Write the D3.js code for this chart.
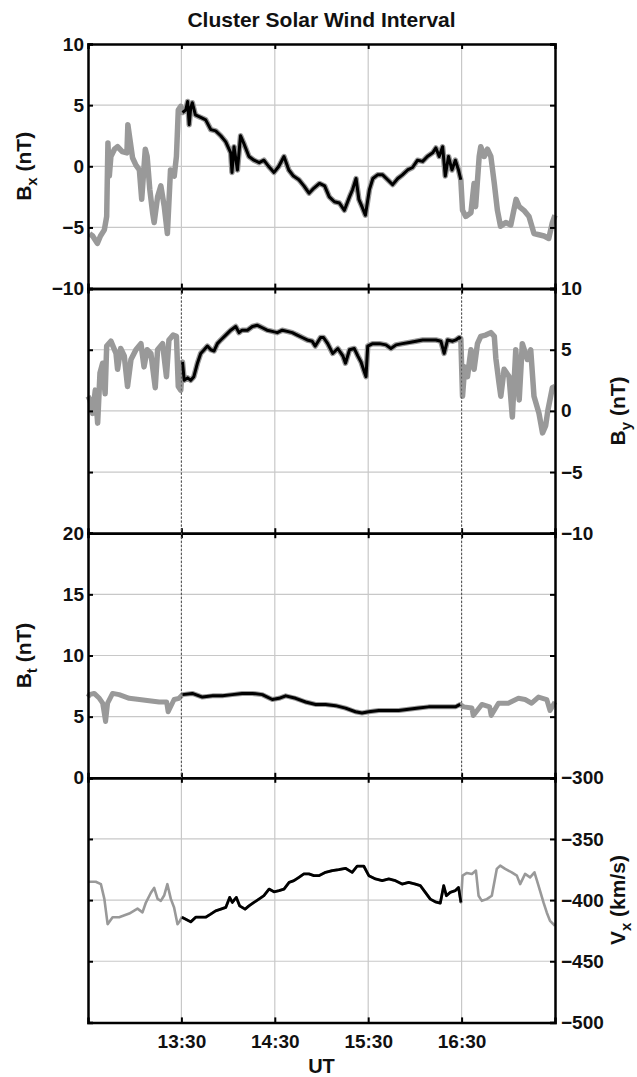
<!DOCTYPE html>
<html>
<head>
<meta charset="utf-8">
<script src="https://cdn.jsdelivr.net/npm/d3@7"></script>
<style>
  body { margin: 0; background: #fff; }
  svg text { font-family: "Liberation Sans", Arial, sans-serif; font-weight: bold; fill: #111; }
</style>
</head>
<body>
<svg id="chart" width="637" height="1077"></svg>
<script>
// time is minutes after 12:30 UT
const xTickValues = [60, 120, 180, 240];
const xTickLabels = ["13:30", "14:30", "15:30", "16:30"];
const intervalStart = 60, intervalEnd = 240;

const bxT = [1, 3, 6, 8, 10.5, 12, 12.8, 13.7, 14.7, 17, 19, 22, 25, 25.6, 28.6, 30.8, 33, 34.5, 36.8, 38, 39.7, 41.5, 42.5, 44.7, 46.8, 49, 51, 53, 55.4, 56.8, 58, 59.6,
  60.7, 62.8, 64, 65, 66, 67, 69, 72.4, 75.6, 78.9, 82, 85.3, 88.5, 91.7, 92.5, 93.8, 96, 98, 100, 103.4, 106.6, 110, 113, 116, 119.5, 122.6, 125.9, 129, 132, 135.5, 138.7, 142, 145, 148.7,
  152, 155, 158.3, 161.5, 164.7, 168, 170, 172.2, 174, 176, 178.2, 180.8, 183, 186, 189.3, 192.5, 195.7, 199, 202, 205.3, 208.5, 211.7, 215, 218, 221.4, 223.5, 225.6, 227.8, 229.5, 231.6, 233.8, 236, 238, 239.5,
  240.6, 242.7, 246, 248, 249, 251.3, 252.3, 254.5, 256.6, 258.8, 261, 263, 265, 268.4, 271.6, 275, 277, 280, 283.3, 286.5, 289.7, 293, 296, 298.3, 300];
const bxV = [-5.5, -5.7, -6.3, -5.7, -5.2, -4.1, 1.9, -0.8, 0.8, 1.4, 1.6, 1.2, 1.1, 3.4, 0.7, 0.1, -0.3, -2.7, 1.4, 0.8, -1.9, -3.8, -4.6, -2.5, -1.6, -3.3, -5.5, -0.3, -0.8, 0.8, 4.6, 4.9,
  4.4, 4.6, 5.3, 3.4, 4.8, 5.2, 4.2, 4.0, 3.8, 3.0, 2.9, 2.5, 2.0, 1.1, -0.5, 1.6, -0.3, 2.5, 1.9, 0.8, 0.5, 0.3, 0.5, 0, -0.5, 0, 0.8, -0.3, -0.8, -1.1, -1.6, -2.2, -1.8, -1.4,
  -1.6, -2.5, -2.9, -3.0, -3.6, -2.5, -1.9, -1.0, -2.7, -3.3, -4.0, -1.9, -1.0, -0.7, -0.7, -1.1, -1.5, -1.0, -0.7, -0.3, -0.1, 0.5, 0.4, 0.8, 1.1, 1.5, 0.8, 1.6, -0.8, 0.8, -0.3, 0.5, -0.3, -1.1,
  -3.6, -4.1, -3.8, -1.4, -3.3, 0.8, 1.6, 0.8, 1.4, 0.8, -1.4, -3.6, -4.9, -4.6, -4.8, -2.7, -3.3, -3.6, -4.1, -5.5, -5.6, -5.7, -5.9, -4.6, -4.0];

const byT = [0, 1.3, 3, 4.7, 6.2, 7.7, 9.4, 11, 12, 14.7, 18, 19, 21, 23.3, 25.4, 27.6, 30.8, 34, 36, 38, 40.4, 43.2, 44.7, 47.9, 50.4, 52, 54.7, 56.8, 58, 59.6,
  60.7, 61.8, 64, 66, 68, 70.3, 72.4, 74.6, 76.7, 78.9, 81, 83.1, 85.3, 88.5, 91.7, 94.9, 97, 99, 102.4, 105.6, 108.8, 112, 115, 118.4, 121.6, 124.8, 128, 131.2, 134.4, 137.6, 140.8, 144, 146, 149.4,
  151.3, 154, 157.2, 160.5, 163.7, 165.4, 168, 171.1, 173.3, 175.4, 177.5, 178.6, 179.7, 182.9, 187.2, 191.4, 194.6, 197.9, 202, 206.4, 210.7, 215, 219.2, 223.5, 226.7, 228.8, 231, 234.2, 236.3, 238.5, 239.5,
  240.6, 242, 243.8, 246, 248, 250.2, 252.3, 255.5, 258.8, 261, 262, 264, 265.2, 267.3, 270.5, 272.6, 274.8, 277, 279, 282.3, 284.4, 286.5, 289.7, 292, 294, 295.5, 298.3, 300];
const byV = [1.2, 0.9, -0.2, 1.7, -1.0, 3.1, 3.9, 1.4, 5.3, 5.7, 4.7, 3.4, 5.1, 4.5, 2.0, 4.2, 5.0, 5.5, 3.6, 5.0, 4.7, 1.9, 5.0, 5.5, 2.8, 5.8, 6.2, 6.1, 2.0, 1.7,
  4.0, 2.5, 2.7, 2.5, 2.8, 3.9, 4.7, 5.0, 5.3, 5.0, 4.9, 5.5, 5.8, 6.2, 6.6, 6.9, 6.4, 6.6, 6.6, 6.9, 7.0, 6.8, 6.6, 6.5, 6.4, 6.6, 6.5, 6.4, 6.2, 6.0, 5.8, 5.7, 5.3, 6.0,
  6.0, 5.5, 4.7, 5.1, 4.5, 3.9, 5.0, 5.1, 4.5, 4.0, 3.2, 2.8, 5.3, 5.5, 5.5, 5.4, 5.1, 5.4, 5.5, 5.6, 5.7, 5.8, 5.8, 5.8, 5.7, 4.7, 5.8, 5.7, 5.8, 6.0, 5.9,
  1.2, 3.6, 2.8, 5.0, 3.4, 5.5, 6.1, 6.2, 6.4, 6.1, 4.3, 2.3, 1.2, 3.4, 2.8, -0.5, 5.0, 0.9, 5.5, 4.2, 5.0, 1.2, -0.2, -1.8, -1.2, 0.1, 1.9, 2.0];

const btT = [0, 0.9, 4, 7.3, 9.4, 11.3, 12.6, 15.8, 20, 26.5, 33, 39.3, 45.7, 50.5, 51.5, 55.3, 58.5,
  60.7, 67, 73.5, 80, 86.3, 92.7, 99, 105.6, 112, 118.4, 122.7, 127, 133.4, 139.8, 146.2, 152.6, 159, 165.4, 171.8, 176, 180.4, 186.8, 193.2, 199.6, 206, 212.4, 218.8, 225.2, 231.6, 236, 239.1,
  241.3, 246.6, 247.5, 253, 258, 259, 263.7, 270, 276.5, 280.8, 285, 289.4, 294.7, 296.8, 300];
const btV = [6.6, 6.8, 6.9, 6.5, 6.1, 4.6, 6.1, 6.9, 6.8, 6.5, 6.4, 6.3, 6.2, 6.2, 5.4, 6.4, 6.5,
  6.8, 6.9, 6.6, 6.7, 6.7, 6.8, 6.9, 6.9, 6.8, 6.4, 6.5, 6.7, 6.5, 6.2, 6.0, 6.0, 5.9, 5.7, 5.4, 5.3, 5.4, 5.5, 5.5, 5.5, 5.6, 5.7, 5.8, 5.8, 5.8, 5.8, 6.0,
  5.8, 5.7, 5.1, 6.0, 5.8, 5.1, 6.1, 6.1, 6.5, 6.4, 6.1, 6.6, 6.4, 5.5, 6.2];

const vxT = [0, 5, 8.3, 10.5, 12.6, 15.8, 20, 26.5, 31.8, 35, 37.2, 40.4, 42.5, 44.7, 46.8, 49, 51, 53.2, 55.3, 57.5, 59,
  60.3, 62.8, 66, 69.2, 72.4, 75.6, 78.8, 82, 85.3, 88.5, 91, 92.7, 95.3, 97.4, 100.9, 103.4, 106.6, 109.8, 113, 116.3, 119.5, 122.7, 125.9, 129.2, 132.3, 135.5, 138.7, 141.9, 145.1, 148.3,
  152.6, 156.9, 161.1, 165.4, 169.7, 172.9, 177.2, 180.4, 184.7, 189, 193.2, 197.5, 201.8, 206, 210.3, 213.5, 216.7, 219.9, 223.1, 226.3, 228.5, 230.2, 232.7, 235.9, 238, 239.6,
  240.6, 243.4, 246.6, 249.2, 250.9, 253, 256.2, 259.4, 262.6, 264.8, 268, 272.2, 275.5, 277.6, 280.8, 284, 286.8, 289.4, 292.6, 294.7, 296.8, 300];
const vxV = [-385, -385, -387, -399, -419.7, -414, -414, -411, -407, -410, -402, -394, -390, -399, -400.6, -396, -387, -399, -406, -419.7, -417,
  -414, -415.6, -417.8, -414, -414, -414, -411.5, -408.8, -407.4, -406, -397.8, -401.9, -397.8, -404.7, -407.4, -404.7, -401.9, -399.2, -396.4, -391, -393.2, -392.3, -391, -385.5, -384.1, -381.4, -378.6, -378.6, -380, -380,
  -377.3, -375.9, -375.1, -374, -377.3, -372.3, -372.3, -380, -382.7, -384.1, -382.7, -384.1, -386.9, -385.5, -386.9, -388.2, -393.7, -399.2, -401.4, -402.5, -388.2, -396.4, -393.7, -392.3, -389.6, -401.9,
  -380, -377.8, -378.6, -375.9, -396.4, -400.6, -399.2, -396.4, -374.5, -371.8, -374.5, -377.3, -380, -386.9, -378.6, -381.4, -377.3, -388.2, -401.9, -410.1, -417, -421];

const panels = [
  { t: bxT, v: bxV, domain: [-10, 10], ticks: [-10, -5, 0, 5, 10], side: "left", label: "B", sub: "x", unit: " (nT)", grayW: 5.5, blackW: 3 },
  { t: byT, v: byV, domain: [-10, 10], ticks: [-10, -5, 0, 5, 10], side: "right", label: "B", sub: "y", unit: " (nT)", grayW: 5.5, blackW: 3 },
  { t: btT, v: btV, domain: [0, 20], ticks: [0, 5, 10, 15, 20], side: "left", label: "B", sub: "t", unit: " (nT)", grayW: 5, blackW: 3 },
  { t: vxT, v: vxV, domain: [-500, -300], ticks: [-500, -450, -400, -350, -300], side: "right", label: "V", sub: "x", unit: " (km/s)", grayW: 2.6, blackW: 2.8 }
];

const left = 88, right = 555, top0 = 44, panelH = 244.6;
const svg = d3.select("#chart");

const x = d3.scaleLinear().domain([0, 300]).range([left, right]);

// title
svg.append("text")
  .attr("x", (left + right) / 2)
  .attr("y", 27)
  .attr("text-anchor", "middle")
  .style("font-size", "21px")
  .text("Cluster Solar Wind Interval");

panels.forEach(function (p, i) {
  const y0 = top0 + i * panelH;
  const y = d3.scaleLinear().domain(p.domain).range([y0 + panelH, y0]);
  const g = svg.append("g");
  const isMarker = (d) => (i === 1 || i === 2) && (d === intervalStart || d === intervalEnd);

  // grid
  g.selectAll(".hgrid")
    .data(p.ticks.slice(1, -1))
    .enter()
    .append("line")
    .attr("x1", left).attr("x2", right)
    .attr("y1", (d) => y(d)).attr("y2", (d) => y(d))
    .attr("stroke", "#c8c8c8").attr("stroke-width", 1.2);
  g.selectAll(".vgrid")
    .data(xTickValues)
    .enter()
    .append("line")
    .attr("x1", (d) => x(d)).attr("x2", (d) => x(d))
    .attr("y1", y0).attr("y2", y0 + panelH)
    .attr("stroke", (d) => (isMarker(d) ? "#555" : "#c8c8c8"))
    .attr("stroke-width", (d) => (isMarker(d) ? 1 : 1.2))
    .attr("stroke-dasharray", (d) => (isMarker(d) ? "2,2" : null));

  const pts = p.t.map((t, k) => ({ t: t, v: p.v[k] }));
  const line = d3.line().x((d) => x(d.t)).y((d) => y(d.v));

  g.append("path")
    .datum(pts)
    .attr("fill", "none")
    .attr("stroke", "#999")
    .attr("stroke-width", p.grayW)
    .attr("stroke-linejoin", "round")
    .attr("d", line);

  g.append("path")
    .datum(pts.filter((d) => d.t >= intervalStart && d.t <= intervalEnd))
    .attr("fill", "none")
    .attr("stroke", "#000")
    .attr("stroke-width", p.blackW)
    .attr("stroke-linejoin", "round")
    .attr("d", line);

  // axes with inward ticks on all sides
  const yLeft = d3.axisLeft(y).tickValues(p.ticks).tickSize(-5).tickPadding(4);
  const yRight = d3.axisRight(y).tickValues(p.ticks).tickSize(-5).tickPadding(6);
  const xTop = d3.axisTop(x).tickValues(xTickValues).tickSize(-5).tickFormat("");
  const xBot = d3.axisBottom(x).tickValues(xTickValues).tickSize(-5).tickPadding(12)
    .tickFormat((d, k) => (i === 3 ? xTickLabels[k] : ""));

  const axL = g.append("g").attr("transform", "translate(" + left + ",0)").call(yLeft);
  const axR = g.append("g").attr("transform", "translate(" + right + ",0)").call(yRight);
  g.append("g").attr("transform", "translate(0," + y0 + ")").call(xTop);
  g.append("g").attr("transform", "translate(0," + (y0 + panelH) + ")").call(xBot);

  if (p.side === "left") axR.selectAll("text").remove();
  else axL.selectAll("text").remove();

  g.selectAll(".domain").attr("stroke", "#000").attr("stroke-width", 2.5);
  g.selectAll(".tick line").attr("stroke", "#000").attr("stroke-width", 2);
  g.selectAll(".tick text").style("font-size", "19px").attr("fill", "#111");

  // axis label
  const lx = p.side === "left" ? 31 : 625;
  const lab = g.append("text")
    .attr("transform", "translate(" + lx + "," + (y0 + panelH / 2) + ") rotate(-90)")
    .attr("text-anchor", "middle")
    .style("font-size", "21px");
  lab.append("tspan").text(p.label);
  lab.append("tspan").attr("dy", 6).style("font-size", "15px").text(p.sub);
  lab.append("tspan").attr("dy", -6).text(p.unit);
});

// interval markers crossing the panel joins
svg.selectAll(".interval")
  .data([intervalStart, intervalEnd])
  .enter()
  .append("line")
  .attr("x1", (d) => x(d)).attr("x2", (d) => x(d))
  .attr("y1", top0 + panelH).attr("y2", top0 + 3 * panelH)
  .attr("stroke", "#555").attr("stroke-width", 1).attr("stroke-dasharray", "2,2");

svg.append("text")
  .attr("x", (left + right) / 2)
  .attr("y", 1073)
  .attr("text-anchor", "middle")
  .style("font-size", "20px")
  .text("UT");
</script>
</body>
</html>
